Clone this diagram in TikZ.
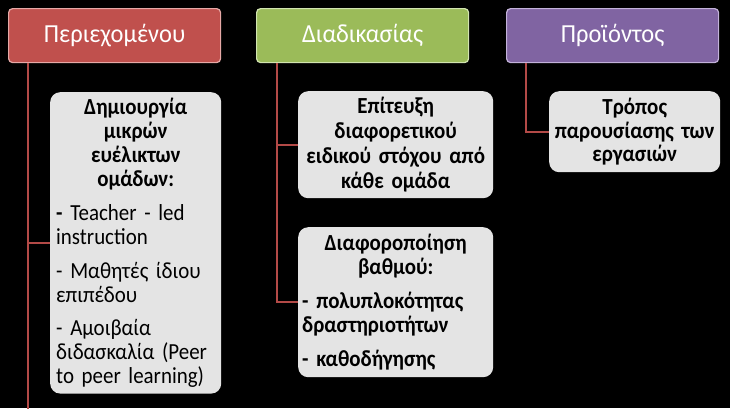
\documentclass[tikz,border=0pt]{standalone}
\usepackage{fontspec}
\setmainfont{Carlito}
\newfontfamily\boxfont{Carlito}[FakeStretch=0.91]
\newfontfamily\hdrfont{Carlito}[FakeStretch=0.94]
\definecolor{hred}{HTML}{C0504D}
\definecolor{hredl}{HTML}{E6A9A7}
\definecolor{hgreen}{HTML}{9BBB59}
\definecolor{hgreenl}{HTML}{D2E4B0}
\definecolor{hpurple}{HTML}{8064A2}
\definecolor{hpurplel}{HTML}{C3B2DA}
\definecolor{boxgray}{HTML}{E4E4E4}
\definecolor{linkred}{HTML}{B34A47}
\begin{document}
\begin{tikzpicture}[x=1pt,y=-1pt,
  hdr/.style={rounded corners=4pt, line width=1.2pt, minimum width=212pt, minimum height=54pt,
    anchor=north west, text=white, font=\hdrfont\fontsize{26}{30}\selectfont},
  box/.style={fill=boxgray, rounded corners=10pt, text=black, anchor=north west,
    font=\boxfont\fontsize{23}{24}\selectfont},
  link/.style={draw=linkred, line width=1.7pt}]
\fill[black] (0,0) rectangle (730,408);
\useasboundingbox (0,0) rectangle (730,408);

\node[hdr, fill=hred, draw=hredl] (h1) at (8,8) {Περιεχομένου};
\node[hdr, fill=hgreen, draw=hgreenl] (h2) at (256,8) {Διαδικασίας};
\node[hdr, fill=hpurple, draw=hpurplel] (h3) at (506,8) {Προϊόντος};

\node[box, inner sep=6pt, text width=159pt, minimum height=300pt] (b1) at (50,92) {%
  {\centering\bfseries Δημιουργία\\ μικρών\\ ευέλικτων\\ ομάδων:\par}\vspace{10pt}%
  \raggedright\textbf{-} Teacher - led\\ instruction\par\vspace{10pt}%
  - Μαθητές ίδιου\\ επιπέδου\par\vspace{9pt}%
  - Αμοιβαία\\ διδασκαλία (Peer\\ to peer learning)\par};

\node[box, inner sep=4pt, text width=187pt, minimum height=107pt, align=center, font=\boxfont\fontsize{23}{25}\selectfont\bfseries] (b2a) at (298,91)
  {Επίτευξη\\ διαφορετικού\\ ειδικού στόχου από\\ κάθε ομάδα};

\node[box, inner sep=4pt, text width=187pt, minimum height=150pt, font=\boxfont\fontsize{23}{24}\selectfont\bfseries] (b2b) at (298,227) {%
  {\centering Διαφοροποίηση\\ βαθμού:\par}\vspace{10pt}%
  \raggedright - πολυπλοκότητας\\ δραστηριοτήτων\par\vspace{10pt}%
  - καθοδήγησης\par};

\node[box, inner sep=4pt, text width=163pt, minimum height=81pt, align=center, font=\boxfont\fontsize{23}{23.5}\selectfont\bfseries] (b3) at (549,91)
  {Τρόπος\\ παρουσίασης των\\ εργασιών};

\coordinate (t1) at ([xshift=20pt]h1.south west);
\coordinate (t2) at ([xshift=21pt]h2.south west);
\coordinate (t3) at ([xshift=20pt]h3.south west);
\coordinate (e1) at (t1 |- 0,410);

\draw[link] (t1) -- (e1);
\draw[link] (b1.west) -- (b1.west -| t1);
\draw[link] (t2) |- (b2b.west);
\draw[link] (b2a.west) -- (b2a.west -| t2);
\draw[link] (t3) |- (b3.west);
\end{tikzpicture}
\end{document}
